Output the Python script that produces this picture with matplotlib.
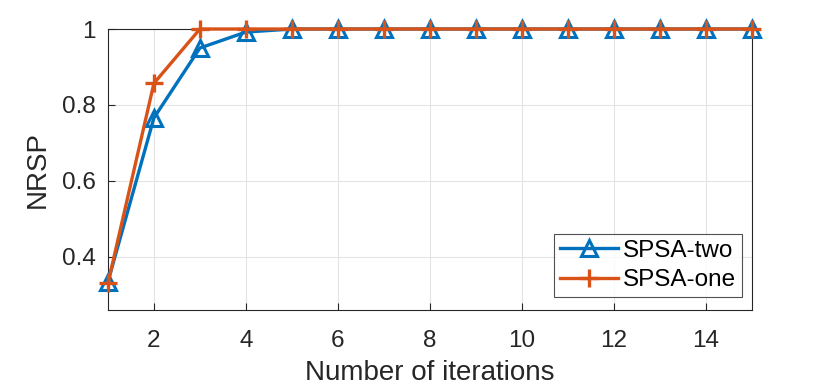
import matplotlib
matplotlib.use('Agg')
import matplotlib.pyplot as plt

iterations = list(range(1, 16))
spsa_two = [0.334, 0.766, 0.95, 0.992, 1, 1, 1, 1, 1, 1, 1, 1, 1, 1, 1]
spsa_one = [0.33, 0.857, 1, 1, 1, 1, 1, 1, 1, 1, 1, 1, 1, 1, 1]
xticks = [2, 4, 6, 8, 10, 12, 14]
yticks = [0.4, 0.6, 0.8, 1]
ytick_labels = ['0.4', '0.6', '0.8', '1']

plt.rcParams['font.family'] = ['Liberation Sans', 'DejaVu Sans']

fig = plt.figure(figsize=(8.3, 3.92), dpi=100)
ax = fig.add_axes([0.130, 0.209, 0.776, 0.717])

ax.plot(iterations, spsa_two, color='#0072BD', lw=2.4, marker='^', ms=12,
        mfc='none', mew=2.2, label='SPSA-two', clip_on=False, zorder=3)
ax.plot(iterations, spsa_one, color='#D95319', lw=2.4, marker='+', ms=13,
        mew=2.4, label='SPSA-one', clip_on=False, zorder=4)

ax.set_xlim(1, 15)
ax.set_ylim(0.26, 1)
ax.set_xticks(xticks)
ax.set_yticks(yticks)
ax.set_yticklabels(ytick_labels)
ax.tick_params(axis='x', direction='in', labelsize=17.5, colors='#262626', length=5, pad=14)
ax.tick_params(axis='y', direction='in', labelsize=17.5, colors='#262626', length=5, pad=9)
ax.grid(True, color='#e3e3e3', lw=0.8)
ax.set_axisbelow(True)
for s in ax.spines.values():
    s.set_color('#262626')
    s.set_linewidth(0.8)

ax.set_xlabel('Number of iterations', fontsize=20, color='#262626', labelpad=6)
ax.set_ylabel('NRSP', fontsize=20, color='#262626', labelpad=8)

leg = ax.legend(loc='lower right', bbox_to_anchor=(0.9845, 0.046), borderaxespad=0,
                fontsize=17.5, fancybox=False, edgecolor='#262626',
                handlelength=2.4, handletextpad=0.2, borderpad=0.25,
                labelspacing=0.3)
leg.get_frame().set_linewidth(0.8)

fig.savefig('out.png', dpi=100)
